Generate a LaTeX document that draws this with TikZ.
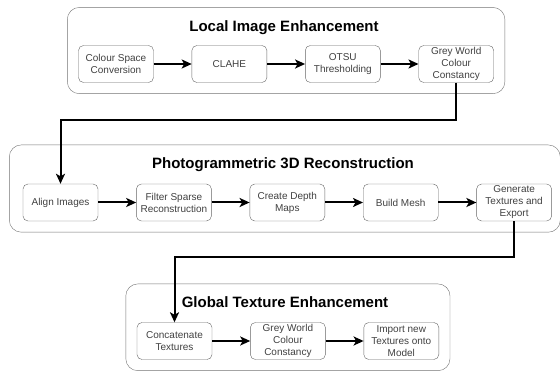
\documentclass[tikz,border=0pt]{standalone}
\usepackage{fontspec}
\setmainfont{Liberation Sans}
\usetikzlibrary{arrows.meta, positioning, fit, backgrounds}

\begin{document}
\begin{tikzpicture}[
        x=1pt, y=-1pt,
        node distance=38pt,
        box/.style={rectangle, draw=black!60, rounded corners=5pt, align=center, minimum width=75pt, minimum height=37pt, inner sep=1pt, text=black!75, font=\fontsize{10}{12}\selectfont},
        grouptitle/.style={anchor=base, inner sep=2pt, font=\fontsize{15}{18}\selectfont\bfseries},
        groupbox/.style={rectangle, draw=black!55, rounded corners=12pt, inner sep=11pt},
        arrow/.style={-{Stealth[length=10pt, width=9pt, inset=2.5pt]}, line width=2pt}
    ]

    \useasboundingbox (0,0) rectangle (560,371);

    % local image enhancement
    \node[grouptitle] (leTitle) at (284,31.5) {Local Image Enhancement};
    \node[box] (le1) at (116,64) {Colour Space\\Conversion};
    \node[box, right=of le1] (le2) {CLAHE};
    \node[box, right=of le2] (le3) {OTSU\\Thresholding};
    \node[box, right=of le3] (le4) {Grey World\\Colour\\Constancy};

    % photogrammetric reconstruction
    \node[grouptitle] (prTitle) at (283,169) {Photogrammetric 3D Reconstruction};
    \node[box] (pr1) at (60.5,202.5) {Align Images};
    \node[box, right=of pr1] (pr2) {Filter Sparse\\Reconstruction};
    \node[box, right=of pr2] (pr3) {Create Depth\\Maps};
    \node[box, right=of pr3] (pr4) {Build Mesh};
    \node[box, right=of pr4] (pr5) {Generate\\Textures and\\Export};

    % global texture enhancement
    \node[grouptitle] (gtTitle) at (285,308) {Global Texture Enhancement};
    \node[box] (gt1) at (174.5,341) {Concatenate\\Textures};
    \node[box, right=of gt1] (gt2) {Grey World\\Colour\\Constancy};
    \node[box, right=of gt2] (gt3) {Import new\\Textures onto\\Model};

    \begin{scope}[on background layer]
        \node[groupbox, fit=(leTitle)(le1)(le4)] (leFrame) {};
        \node[groupbox, fit=(prTitle)(pr1)(pr5), xshift=-2.5pt] (prFrame) {};
        \node[groupbox, fit=(gtTitle)(gt1)(gt3)] (gtFrame) {};
    \end{scope}

    \draw[arrow] (le1) -- (le2);
    \draw[arrow] (le2) -- (le3);
    \draw[arrow] (le3) -- (le4);

    \draw[arrow] (pr1) -- (pr2);
    \draw[arrow] (pr2) -- (pr3);
    \draw[arrow] (pr3) -- (pr4);
    \draw[arrow] (pr4) -- (pr5);

    \draw[arrow] (gt1) -- (gt2);
    \draw[arrow] (gt2) -- (gt3);

    % links between the groups
    \draw[arrow] (le4.south) -- ++(0,37.5) -| (pr1.north);
    \draw[arrow] (pr5.south) -- ++(0,36) -| (gt1.north);

\end{tikzpicture}
\end{document}
